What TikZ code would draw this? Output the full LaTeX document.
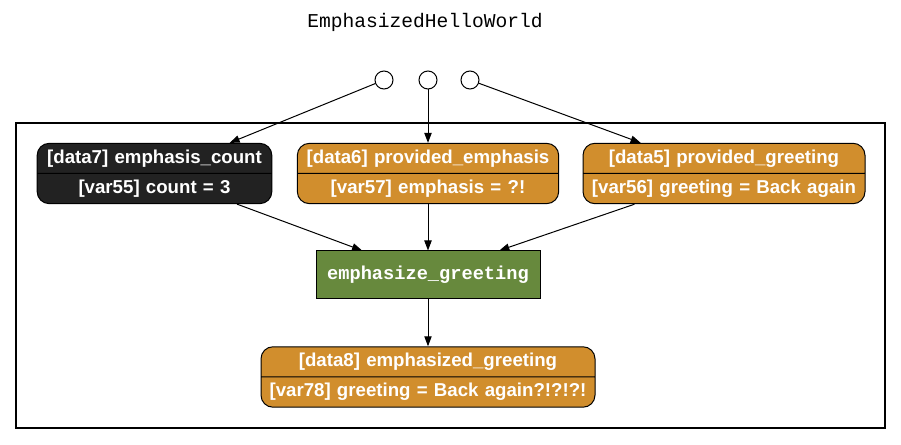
\documentclass[tikz,border=0pt]{standalone}
\usepackage{fontspec}
\setmainfont{Liberation Sans}
\newfontfamily\courierfont{Liberation Mono}
\usepackage{tikz}
\usetikzlibrary{shapes.multipart,arrows.meta}

\definecolor{datadark}{RGB}{34,34,34}
\definecolor{dataorange}{RGB}{209,142,45}
\definecolor{funcgreen}{RGB}{103,137,61}

\tikzset{
    datanode/.style={rectangle split, rectangle split parts=2, draw=black,
        line width=0.75pt, rounded corners=9pt, text=white, align=center,
        font=\fontsize{14}{16}\selectfont\bfseries, inner xsep=0pt, inner ysep=4.4pt},
    funcnode/.style={rectangle, draw=black, line width=0.75pt, fill=funcgreen,
        text=white, font=\fontsize{14}{16}\selectfont\courierfont\bfseries,
        minimum width=168pt, minimum height=36pt, inner sep=0pt},
    port/.style={circle, draw=black, line width=0.75pt, minimum size=13.5pt, inner sep=0pt},
}

\begin{document}
\begin{tikzpicture}[x=0.75pt, y=-0.75pt, >={Triangle[length=7.5pt,width=5.5pt]}, line width=0.75pt]
    \useasboundingbox (0,0) rectangle (901,445);

    \node[font=\fontsize{14.7}{17}\selectfont\courierfont] (title) at (425,22) {EmphasizedHelloWorld};

    \draw[line width=1.5pt] (16,123) rectangle (885,428);

    \node[port] (in1) at (384,80) {};
    \node[port] (in2) at (428,80) {};
    \node[port] (in3) at (470,80) {};

    \node[datanode, fill=datadark, text width=176pt] (data7) at (154.5,173.5)
        {[data7] emphasis\_count \nodepart{two} [var55] count = 3};
    \node[datanode, fill=dataorange, text width=196pt] (data6) at (428,173.5)
        {[data6] provided\_emphasis \nodepart{two} [var57] emphasis = ?!};
    \node[datanode, fill=dataorange, text width=211.5pt] (data5) at (724,173.5)
        {[data5] provided\_greeting \nodepart{two} [var56] greeting = Back again};

    \node[funcnode] (emph) at (428,275) {emphasize\_greeting};

    \node[datanode, fill=dataorange, text width=250.5pt] (data8) at (428,377)
        {[data8] emphasized\_greeting \nodepart{two} [var78] greeting = Back again?!?!?!};

    \draw[->] (in1) -- (data7);
    \draw[->] (in2) -- (data6);
    \draw[->] (in3) -- (data5);

    \draw[->] (data7) -- (emph);
    \draw[->] (data6) -- (emph);
    \draw[->] (data5) -- (emph);
    \draw[->] (emph) -- (data8);
\end{tikzpicture}
\end{document}
